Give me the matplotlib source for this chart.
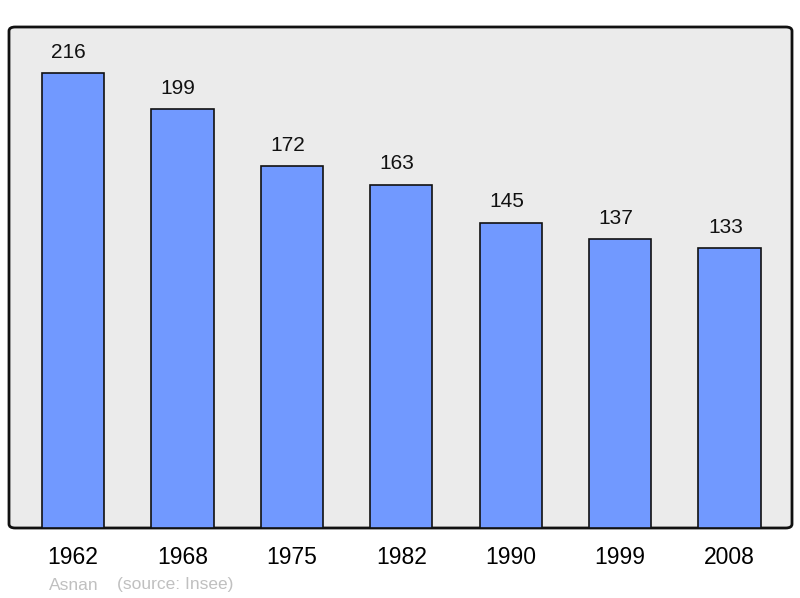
import matplotlib.pyplot as plt
from matplotlib.patches import FancyBboxPatch

years = ["1962", "1968", "1975", "1982", "1990", "1999", "2008"]
population = [216, 199, 172, 163, 145, 137, 133]
commune = "Asnan"
source = "(source: Insee)"

plt.rcParams['font.family'] = ['Liberation Sans', 'DejaVu Sans']

fig = plt.figure(figsize=(8, 5.98), dpi=100)
ax = fig.add_axes([9 / 800, 70 / 598, 783 / 800, 501 / 598])
ax.set_facecolor('none')

# rounded grey panel behind the bars
panel = FancyBboxPatch((0, 0), 1, 1,
                       boxstyle="round,pad=0,rounding_size=0.008",
                       transform=ax.transAxes, facecolor='#ebebeb',
                       edgecolor='#111111', linewidth=2, zorder=0, clip_on=False)
ax.add_patch(panel)

x = range(len(years))
ax.bar(x, population, width=0.57, color='#7199ff', edgecolor='#111111',
       linewidth=1.2, zorder=2)
for i, v in zip(x, population):
    ax.annotate(str(v), (i, v), xytext=(-3, 8), textcoords='offset points',
                ha='center', va='bottom', fontsize=15, color='#111111')

ax.set_xlim(-0.585, 6.571)
ax.set_ylim(0, 237.8)
for s in ax.spines.values():
    s.set_visible(False)
ax.set_yticks([])
ax.set_xticks(list(x))
ax.set_xticklabels(years, fontsize=16.5)
ax.tick_params(axis='x', length=0, pad=13)

fig.text(49 / 800, 1 - 585 / 598, commune, fontsize=12.5, color='#c0c0c0', va='center')
fig.text(117 / 800, 1 - 585 / 598, source, fontsize=12.5, color='#c0c0c0', va='center')

fig.savefig('out.png', dpi=100)
